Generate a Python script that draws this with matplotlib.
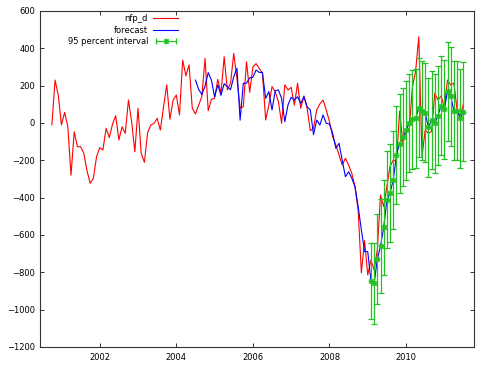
import numpy as np
import matplotlib
matplotlib.use("Agg")
import matplotlib.pyplot as plt
from matplotlib.lines import Line2D
from matplotlib.legend_handler import HandlerLine2D, HandlerTuple

# monthly obs, first one is 2000:10
start_year = 2000.75

nfp_d = [-10, 230, 150, -10, 57, -20, -280, -47, -127, -127,
         -162, -255, -323, -297, -180, -132, -145, -28, -78, -7,
         39, -91, -20, -55, 123, 7, -154, 79, -162, -211,
         -52, -11, -2, 25, -38, 87, 204, 20, 123, 150,
         43, 337, 253, 311, 79, 48, 96, 141, 346, 66,
         127, 132, 234, 159, 355, 177, 213, 373, 239, 79,
         87, 328, 165, 300, 318, 293, 266, 16, 96, 195,
         168, 114, -2, 204, 177, 191, 96, 213, 79, 145,
         79, -41, -29, 70, 102, 123, 70, 7, -73, -118,
         -171, -225, -189, -225, -270, -340, -470, -803, -630, -814,
         -734, -787, -680, -386, -448, -339, -231, -199, -202, 64,
         -109, -39, -35, 192, 277, 462, -180, -38, -55, -46,
         159, 123, 145, 84, 230, 204, 213, 70, 34, 105]

# forecast starts at obs 45 (2004:07)
fc_start = 45
forecast = [230, 180, 152, 197, 270, 230, 141, 204, 148, 211,
            195, 178, 248, 293, 15, 213, 213, 242, 245, 284,
            271, 271, 132, 168, 70, 173, 177, 132, 7, 96,
            138, 123, 141, 105, 141, 87, 70, -62, 16, -11,
            43, -2, -5, -55, -136, -109, -200, -288, -261, -296,
            -341, -448, -573, -689, -689, -846, -859, -730, -659, -559,
            -412, -373, -305, -170, -110, -75, -40, 0, 20, 25,
            82, 66, 55, -23, 16, -2, 40, 93, 73, 170,
            143, 66, 66, 25, 61]

# 95% interval half widths, out of sample part (from obs 100 = 2009:02)
ci_start = 100
ci_half = [205, 218, 240, 252, 256, 260, 262, 262, 263, 263,
           263, 264, 264, 264, 264, 264, 265, 265, 265, 265,
           265, 265, 265, 265, 265, 265, 265, 265, 265, 265]

t = start_year + np.arange(len(nfp_d)) / 12.0
y = np.array(nfp_d)
fc = np.array(forecast)
tf = t[fc_start:fc_start + len(fc)]
ci = np.array(ci_half)
tc = t[ci_start:ci_start + len(ci)]
fc_ci = fc[ci_start - fc_start:]

red = "#ff0000"
blue = "#0000ff"
green = "#22c022"

plt.rcParams["font.family"] = "DejaVu Sans"
plt.rcParams["font.size"] = 6

fig = plt.figure(figsize=(4.9, 3.67), dpi=100)
ax = fig.add_axes([40 / 490, 1 - 347 / 367, 434 / 490, 336 / 367])

ax.plot(t, y, color=red, lw=0.8)
ax.plot(tf, fc, color=blue, lw=0.8)
star = (8, 2, 0)
ax.errorbar(tc, fc_ci, yerr=ci, fmt="none", ecolor=green, elinewidth=0.9,
            capsize=2.5, capthick=0.9)
ax.plot(tc, fc_ci, ls="none", marker=star, color=green, ms=4, mew=0.8)

ax.set_xlim(2000.44, 2011.775)
ax.set_ylim(-1200, 600)
ax.set_xticks([2002, 2004, 2006, 2008, 2010])
ax.set_yticks(np.arange(-1200, 601, 200))
ax.tick_params(direction="in", length=3, width=0.7, top=True, right=True,
               colors="#333333", labelcolor="black", labelsize=6)
ax.tick_params(axis="x", pad=4)
ax.tick_params(axis="y", pad=3.5)
for s in ax.spines.values():
    s.set_linewidth(0.8)
    s.set_color("#333333")

h_red = Line2D([], [], color=red, lw=0.8)
h_blue = Line2D([], [], color=blue, lw=0.8)
h_bar = Line2D([], [], color=green, lw=0.9, marker="|", ms=5, mew=0.9)
h_star = Line2D([], [], color=green, ls="none", marker=star, ms=4, mew=0.8)
leg = ax.legend([h_red, h_blue, (h_bar, h_star)],
                ["nfp_d", "forecast", "95 percent interval"],
                handler_map={h_bar: HandlerLine2D(numpoints=2),
                             h_star: HandlerLine2D(numpoints=1),
                             tuple: HandlerTuple(ndivide=1)},
                loc="upper right", bbox_to_anchor=(0.318, 0.99),
                frameon=False, markerfirst=False, fontsize=6,
                handlelength=3.0, handletextpad=0.6, labelspacing=0.28,
                borderpad=0, borderaxespad=0)

fig.savefig("out.png", dpi=100)
